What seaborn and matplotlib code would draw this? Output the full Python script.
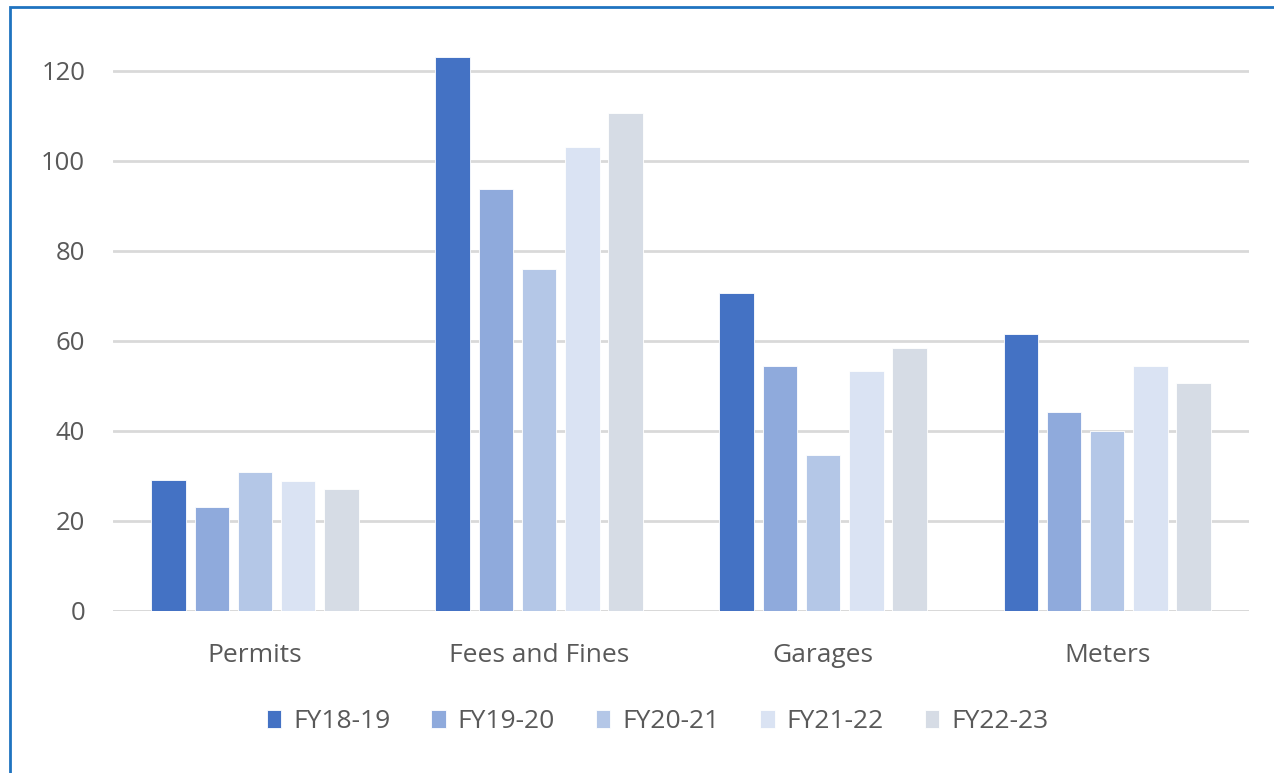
import matplotlib
matplotlib.use('Agg')
import matplotlib.pyplot as plt
import seaborn as sns
import pandas as pd
from matplotlib.patches import Rectangle

categories = ['Permits', 'Fees and Fines', 'Garages', 'Meters']
years = ['FY18-19', 'FY19-20', 'FY20-21', 'FY21-22', 'FY22-23']
fy18_19 = [29.0, 123.1, 70.6, 61.6]
fy19_20 = [23.2, 93.7, 54.4, 44.2]
fy20_21 = [30.9, 76.0, 34.7, 40.0]
fy21_22 = [28.9, 103.1, 53.3, 54.4]
fy22_23 = [27.1, 110.6, 58.4, 50.6]
colors = ['#4472C4', '#8FAADC', '#B4C7E7', '#DAE3F3', '#D6DCE5']

rows = []
for yr, vals in zip(years, [fy18_19, fy19_20, fy20_21, fy21_22, fy22_23]):
    for cat, v in zip(categories, vals):
        rows.append({'category': cat, 'year': yr, 'value': v})
df = pd.DataFrame(rows)

sns.set_style('white')
plt.rcParams['font.family'] = ['Open Sans', 'DejaVu Sans']

fig = plt.figure(figsize=(12.74, 7.73), dpi=100)
ax = fig.add_axes([0.0887, 0.2096, 0.8918, 0.7568])

sns.barplot(data=df, x='category', y='value', hue='year', order=categories,
            hue_order=years, palette=colors, saturation=1, width=0.76, gap=0.2,
            edgecolor='white', linewidth=0.6, ax=ax)

ax.set_ylim(0, 130)
ax.set_yticks(range(0, 121, 20))
ax.set_xlim(-0.5, 3.5)
ax.yaxis.grid(True, color='#D9D9D9', linewidth=2)
ax.set_axisbelow(True)
for s in ax.spines.values():
    s.set_visible(False)
ax.axhline(0, color='#D9D9D9', linewidth=2, zorder=0.5)
ax.set_xlabel('')
ax.set_ylabel('')
ax.tick_params(axis='both', length=0, labelcolor='#595959')
ax.tick_params(axis='y', pad=20, labelsize=18.5)
ax.tick_params(axis='x', pad=23, labelsize=19)

handles, labels = ax.get_legend_handles_labels()
ax.legend_.remove()
fig.legend(handles, labels, loc='center', bbox_to_anchor=(0.516, 0.066), ncol=5,
           frameon=False, fontsize=19, labelcolor='#595959', handlelength=0.55,
           handleheight=0.65, handletextpad=0.45, columnspacing=1.55)

fig.patches.append(Rectangle((10 / 1274, -0.1), 1.2, 1 - 7 / 773 + 0.1,
                             transform=fig.transFigure, fill=False,
                             edgecolor='#1F73C0', linewidth=2))

fig.savefig('out.png', dpi=100)
